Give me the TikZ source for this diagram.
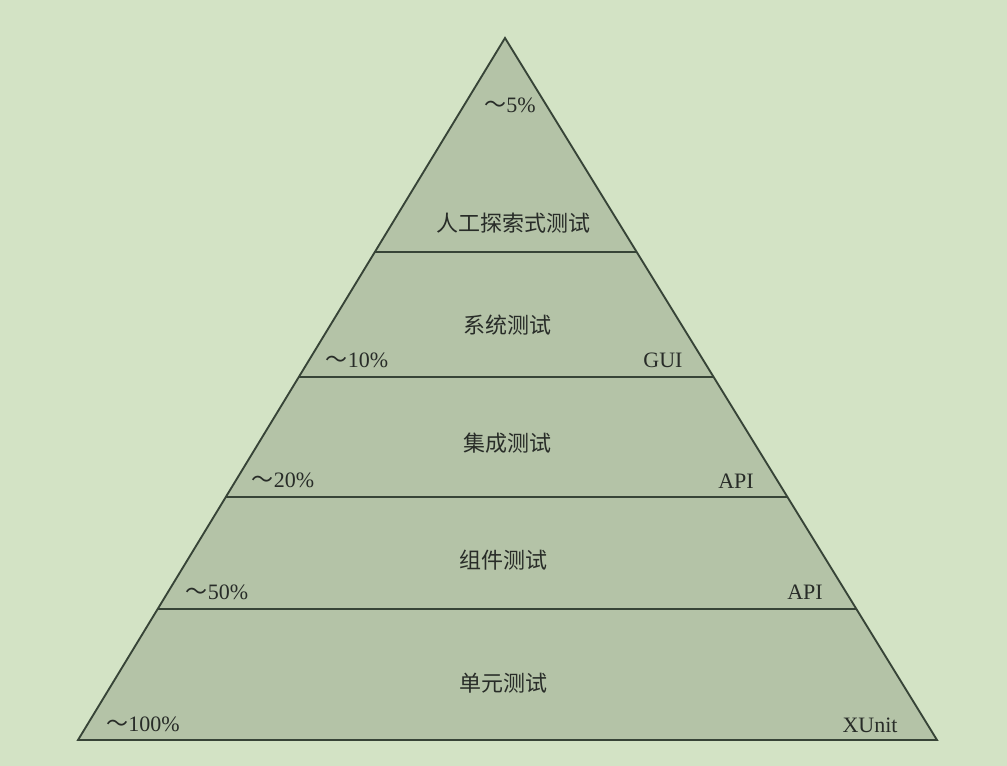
\documentclass[tikz,border=0pt]{standalone}
\usepackage{fontspec}
\setmainfont{Liberation Serif}
\newfontfamily\cjk{Noto Sans CJK SC}
\newcommand{\tld}{{\cjk ～}}
\usetikzlibrary{calc}
\definecolor{bgc}{RGB}{211,227,197}
\definecolor{fillc}{RGB}{180,195,167}
\definecolor{linec}{RGB}{55,68,55}
\definecolor{txtc}{RGB}{40,44,40}
\begin{document}
\begin{tikzpicture}[x=0.75pt,y=-0.75pt,
  layer/.style={draw=linec,line width=1.4pt},
  cn/.style={font=\cjk\fontsize{16.5}{18}\selectfont,text=txtc,inner sep=0pt},
  lt/.style={font=\fontsize{16.5}{18}\selectfont,text=txtc,inner sep=0pt}]
\fill[bgc] (0,0) rectangle (1007,766);
\useasboundingbox (0,0) rectangle (1007,766);
\coordinate (A) at (505,38);
\coordinate (BL) at (78,740);
\coordinate (BR) at (937,740);
\fill[fillc] (A) -- (BL) -- (BR) -- cycle;
\coordinate (L1) at ($(A)!0.3048!(BL)$);
\coordinate (R1) at ($(A)!0.3048!(BR)$);
\coordinate (L2) at ($(A)!0.4829!(BL)$);
\coordinate (R2) at ($(A)!0.4829!(BR)$);
\coordinate (L3) at ($(A)!0.6538!(BL)$);
\coordinate (R3) at ($(A)!0.6538!(BR)$);
\coordinate (L4) at ($(A)!0.8134!(BL)$);
\coordinate (R4) at ($(A)!0.8134!(BR)$);
\draw[layer] (L1) -- (R1);
\draw[layer] (L2) -- (R2);
\draw[layer] (L3) -- (R3);
\draw[layer] (L4) -- (R4);
\draw[layer,line join=miter] (A) -- (BL) -- (BR) -- cycle;
% labels
\node[lt] (p5) at (510,105) {\tld 5\%};
\node[cn] (t1) at (513,223) {人工探索式测试};
\node[cn] (t2) at (507,325) {系统测试};
\node[lt] (p10) at (357,360) {\tld 10\%};
\node[lt] (gui) at (663,360) {GUI};
\node[cn] (t3) at (507,443) {集成测试};
\node[lt] (p20) at (283,480) {\tld 20\%};
\node[lt] (api1) at (736,481) {API};
\node[cn] (t4) at (503,560) {组件测试};
\node[lt] (p50) at (217,592) {\tld 50\%};
\node[lt] (api2) at (805,592) {API};
\node[cn] (t5) at (503,683) {单元测试};
\node[lt] (p100) at (143,724) {\tld 100\%};
\node[lt] (xu) at (870,725) {XUnit};
\end{tikzpicture}
\end{document}
